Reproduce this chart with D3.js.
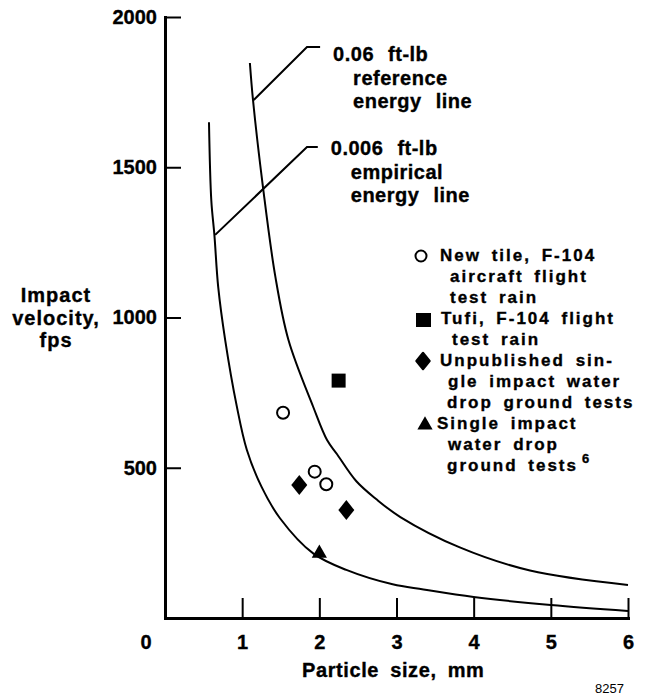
<!DOCTYPE html>
<html>
<head>
<meta charset="utf-8">
<script src="https://cdn.jsdelivr.net/npm/d3@7"></script>
<style>
  html, body { margin: 0; padding: 0; background: #fff; }
  svg { display: block; font-family: 'Liberation Sans', Arial, Helvetica, sans-serif; font-weight: bold; }
  svg text { stroke: #000; stroke-width: 0.35px; }
</style>
</head>
<body>
<div id="chart"></div>
<script>
// values (particle size in mm, velocity in fps)
let xTicks = [1, 2, 3, 4, 5, 6];
let yTicks = [500, 1000, 1500, 2000];

// 0.006 ft-lb empirical energy line
let empiricalSize = [0.57, 0.6, 0.64, 0.69, 0.78, 0.93, 1.06, 1.25, 1.49, 1.92, 2.35, 2.95, 3.35, 4.0, 5.0, 6.0];
let empiricalVel = [1650, 1390, 1275, 1100, 925, 705, 560, 437, 332, 215, 160, 112, 95, 70, 43, 23];

// 0.06 ft-lb reference energy line
let referenceSize = [1.10, 1.14, 1.27, 1.43, 1.6, 1.92, 2.1, 2.23, 2.48, 2.74, 3.05, 3.82, 4.73, 6.0];
let referenceVel = [1847, 1725, 1433, 1136, 925, 703, 592, 545, 455, 395, 336, 235, 158, 110];

// test points
let newTileSize = [1.53, 1.94, 2.09];
let newTileVel = [683, 487, 445];
let tufiSize = [2.25];
let tufiVel = [790];
let unpublishedSize = [1.74, 2.35];
let unpublishedVel = [443, 359];
let singleImpactSize = [2.0];
let singleImpactVel = [215];

const width = 658;
const height = 695;

let svg = d3.select('#chart')
  .append('svg')
  .attr('width', width)
  .attr('height', height);

let x = d3.scaleLinear().domain([0, 6]).range([165, 628]);
let y = d3.scaleLinear().domain([0, 2000]).range([618, 17]);

// axes
let xAxis = svg.append('g')
  .attr('transform', 'translate(0,' + y(0) + ')')
  .call(d3.axisBottom(x).tickValues(xTicks).tickFormat(d3.format('d'))
    .tickSizeInner(-20).tickSizeOuter(0).tickPadding(17));
let yAxis = svg.append('g')
  .attr('transform', 'translate(' + x(0) + ',0)')
  .call(d3.axisLeft(y).tickValues(yTicks).tickFormat(d3.format('d'))
    .tickSizeInner(-16).tickSizeOuter(0).tickPadding(8));

[xAxis, yAxis].forEach(function (g) {
  g.select('.domain').attr('stroke', '#000').attr('stroke-width', 3).attr('stroke-linecap', 'square');
  g.selectAll('.tick line').attr('stroke', '#000').attr('stroke-width', 2);
  g.selectAll('.tick text')
    .attr('fill', '#000')
    .style('font-family', "'Liberation Sans', Arial, sans-serif")
    .style('font-weight', 'bold')
    .style('font-size', '20px');
});

// shared origin label
svg.append('text')
  .attr('x', x(0) - 19)
  .attr('y', y(0) + 31)
  .attr('text-anchor', 'middle')
  .style('font-size', '20px')
  .text('0');

// axis titles
let yTitle = ['Impact', 'velocity,', 'fps'];
yTitle.forEach(function (t, i) {
  svg.append('text')
    .attr('x', 56)
    .attr('y', 302 + i * 22.5)
    .attr('text-anchor', 'middle')
    .style('font-size', '20px')
    .style('letter-spacing', '1px')
    .text(t);
});

svg.append('text')
  .attr('x', 302)
  .attr('y', 677)
  .style('font-size', '20px')
  .style('letter-spacing', '0.6px')
  .style('word-spacing', '5px')
  .text('Particle size, mm');

svg.append('text')
  .attr('x', 595)
  .attr('y', 693)
  .style('font-size', '13px')
  .style('font-weight', 'normal')
  .style('stroke-width', '0px')
  .text('8257');

// energy lines
let line = d3.line()
  .x(function (d) { return x(d[0]); })
  .y(function (d) { return y(d[1]); })
  .curve(d3.curveCatmullRom.alpha(0.5));

[[empiricalSize, empiricalVel], [referenceSize, referenceVel]].forEach(function (s) {
  svg.append('path')
    .datum(d3.zip(s[0], s[1]))
    .attr('d', line)
    .attr('fill', 'none')
    .attr('stroke', '#000')
    .attr('stroke-width', 2);
});

// leader lines and their labels
let leaders = [
  {pts: [[1.15, 1724], [1.84, 1900], [2.01, 1900]], dy: 14, lines: ['0.06 ft-lb', 'reference', 'energy line']},
  {pts: [[0.65, 1275], [1.84, 1567], [1.98, 1567]], dy: 8, lines: ['0.006 ft-lb', 'empirical', 'energy line']}
];
let plain = d3.line()
  .x(function (d) { return x(d[0]); })
  .y(function (d) { return y(d[1]); });

leaders.forEach(function (l) {
  svg.append('path')
    .attr('d', plain(l.pts))
    .attr('fill', 'none')
    .attr('stroke', '#000')
    .attr('stroke-width', 2);
  let end = l.pts[l.pts.length - 1];
  l.lines.forEach(function (t, i) {
    svg.append('text')
      .attr('x', x(end[0]) + 13 + (i > 0 ? 20 : 0))
      .attr('y', y(end[1]) + l.dy + i * 23.5)
      .style('font-size', '20px')
      .style('letter-spacing', '0.5px')
      .style('word-spacing', '8px')
      .text(t);
  });
});

// markers
function diamond(w, h) {
  return 'M0,' + (-h) + 'L' + w + ',0L0,' + h + 'L' + (-w) + ',0Z';
}
let triangle = d3.symbol().type(d3.symbolTriangle).size(100);
let square = d3.symbol().type(d3.symbolSquare).size(196);

d3.zip(newTileSize, newTileVel).forEach(function (d) {
  svg.append('circle')
    .attr('cx', x(d[0])).attr('cy', y(d[1])).attr('r', 6)
    .attr('fill', '#fff').attr('stroke', '#000').attr('stroke-width', 2);
});
d3.zip(tufiSize, tufiVel).forEach(function (d) {
  svg.append('path')
    .attr('d', square())
    .attr('transform', 'translate(' + x(d[0]) + ',' + y(d[1]) + ')');
});
d3.zip(unpublishedSize, unpublishedVel).forEach(function (d) {
  svg.append('path')
    .attr('d', diamond(8, 10))
    .attr('transform', 'translate(' + x(d[0]) + ',' + y(d[1]) + ')');
});
d3.zip(singleImpactSize, singleImpactVel).forEach(function (d) {
  svg.append('path')
    .attr('d', triangle())
    .attr('transform', 'translate(' + x(d[0]) + ',' + y(d[1]) + ')');
});

// legend
let legend = svg.append('g');
legend.append('circle')
  .attr('cx', 421).attr('cy', 256).attr('r', 5.5)
  .attr('fill', '#fff').attr('stroke', '#000').attr('stroke-width', 2);
legend.append('rect')
  .attr('x', 416).attr('y', 313).attr('width', 15).attr('height', 14);
legend.append('path')
  .attr('d', diamond(6.5, 8))
  .attr('transform', 'translate(423,361)')
  .attr('stroke', '#000').attr('stroke-width', 2.5).attr('stroke-linejoin', 'round');
legend.append('path')
  .attr('d', triangle())
  .attr('transform', 'translate(425,425)');

let legendLines = [
  [440, 'New tile, F-104'],
  [450, 'aircraft flight'],
  [450, 'test rain'],
  [441, 'Tufi, F-104 flight'],
  [452, 'test rain'],
  [440, 'Unpublished sin-'],
  [448, 'gle impact water'],
  [447, 'drop ground tests'],
  [437, 'Single impact'],
  [448, 'water drop'],
  [447, 'ground tests']
];
legendLines.forEach(function (l, i) {
  let t = legend.append('text')
    .attr('x', l[0])
    .attr('y', 261 + i * 21)
    .style('font-size', '17px')
    .style('letter-spacing', '2px')
    .style('word-spacing', '4px')
    .text(l[1]);
  // reference number on the last line
  if (i === legendLines.length - 1) {
    t.append('tspan')
      .attr('dx', 4)
      .attr('dy', -8)
      .style('font-size', '13px')
      .style('letter-spacing', '0px')
      .text('6');
  }
});
</script>
</body>
</html>
